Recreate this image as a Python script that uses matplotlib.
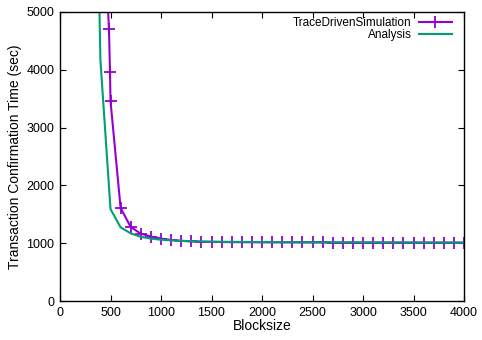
import numpy as np
import matplotlib.pyplot as plt

plt.rcParams['font.family'] = ['Liberation Sans', 'DejaVu Sans']

# Trace-driven simulation results (blocksize vs confirmation time)
sim_blocksize = [460, 485, 495, 500, 600, 700, 800, 900, 1000, 1100, 1200, 1300,
                 1400, 1500, 1600, 1700, 1800, 1900, 2000, 2100, 2200, 2300, 2400,
                 2500, 2600, 2700, 2800, 2900, 3000, 3100, 3200, 3300, 3400, 3500,
                 3600, 3700, 3800, 3900, 4000]
sim_time = [5600, 4700, 3970, 3460, 1610, 1280, 1165, 1115, 1080, 1055, 1042, 1030,
            1025, 1022, 1020, 1018, 1017, 1016, 1015, 1015, 1014, 1014, 1013,
            1013, 1013, 1012, 1012, 1012, 1012, 1011, 1011, 1011, 1011, 1011,
            1010, 1010, 1010, 1010, 1010]

# Analytical model
ana_blocksize = [300, 400, 500, 600, 700, 800, 900, 1000, 1200, 1400, 1600, 2000,
                 2500, 3000, 3500, 4000]
ana_time = [13400, 4170, 1590, 1275, 1170, 1110, 1080, 1060, 1040, 1030, 1025, 1020,
            1016, 1014, 1012, 1010]

fig = plt.figure(figsize=(4.82, 3.40), dpi=100)
ax = fig.add_axes([60 / 482, 39 / 340, 404 / 482, 289 / 340])

ax.plot(sim_blocksize, sim_time, color='#9400D3', lw=1.5, marker='+',
        markersize=8, markeredgewidth=1.3, label='TraceDrivenSimulation')
ax.plot(ana_blocksize, ana_time, color='#009E73', lw=1.5, label='Analysis')

ax.set_xlim(0, 4000)
ax.set_ylim(0, 5000)
ax.set_xticks(np.arange(0, 4001, 500))
ax.set_yticks(np.arange(0, 5001, 1000))
ax.tick_params(direction='in', top=True, right=True, labelsize=9, length=4,
               width=0.8, pad=4)
for s in ax.spines.values():
    s.set_linewidth(1.0)

ax.set_xlabel('Blocksize', fontsize=10, labelpad=0)
ax.set_ylabel('Transaction Confirmation Time (sec)', fontsize=10, labelpad=3)

# gnuplot-style key: right-aligned labels with samples on the right
ax.legend(loc='upper right', bbox_to_anchor=(0.983, 1.0), frameon=False,
          markerfirst=False, fontsize=8.5, handlelength=2.8, handletextpad=0.6,
          labelspacing=0.0, borderaxespad=0.15, borderpad=0.3)

fig.savefig('out.png', dpi=100)
